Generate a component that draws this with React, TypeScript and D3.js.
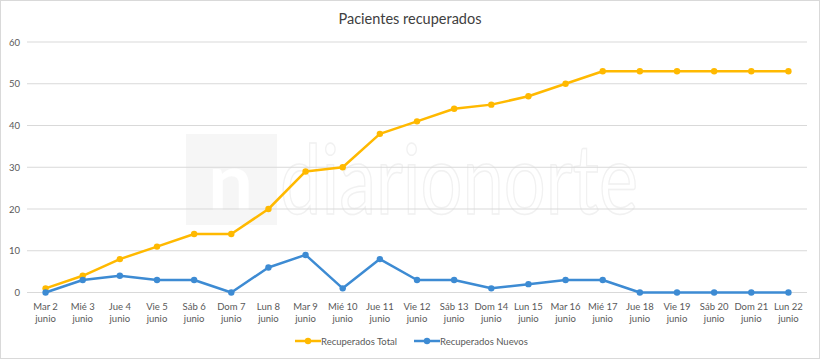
import React, { useEffect, useRef } from 'react';
import * as d3 from 'd3';

const dias = ['Mar 2', 'Mié 3', 'Jue 4', 'Vie 5', 'Sáb 6', 'Dom 7', 'Lun 8', 'Mar 9', 'Mié 10', 'Jue 11', 'Vie 12',
  'Sáb 13', 'Dom 14', 'Lun 15', 'Mar 16', 'Mié 17', 'Jue 18', 'Vie 19', 'Sáb 20', 'Dom 21', 'Lun 22'];
const recuperadosTotal = [1, 4, 8, 11, 14, 14, 20, 29, 30, 38, 41, 44, 45, 47, 50, 53, 53, 53, 53, 53, 53];
const recuperadosNuevos = [0, 3, 4, 3, 3, 0, 6, 9, 1, 8, 3, 3, 1, 2, 3, 3, 0, 0, 0, 0, 0];
const yTicks = [0, 10, 20, 30, 40, 50, 60];

const series = [
  { name: 'Recuperados Total', values: recuperadosTotal, color: '#FFB900' },
  { name: 'Recuperados Nuevos', values: recuperadosNuevos, color: '#3D8BD3' },
];

const W = 820;
const H = 359;
const FONT = 'Lato, "Open Sans", sans-serif';

const App = () => {
  const ref = useRef(null);

  useEffect(() => {
    const svg = d3.select(ref.current);
    svg.selectAll('*').remove();

    const x = d3.scaleBand().domain(dias).range([27, 807]);
    const y = d3.scaleLinear().domain([0, 60]).range([292.5, 42]);

    svg.append('rect')
      .attr('x', 0.5).attr('y', 0.5).attr('width', W - 1).attr('height', H - 1)
      .attr('fill', '#fff').attr('stroke', '#d9d9d9');

    // watermark
    const wm = svg.append('g').attr('opacity', 0.55);
    wm.append('rect').attr('x', 186).attr('y', 134).attr('width', 91).attr('height', 91).attr('fill', '#efefef');
    wm.append('text')
      .attr('x', 208).attr('y', 210)
      .attr('font-family', FONT).attr('font-weight', 'bold').attr('font-size', 80)
      .attr('fill', '#fff').text('n');
    wm.append('text')
      .attr('x', 280).attr('y', 214)
      .attr('font-family', FONT).attr('font-size', 96)
      .attr('textLength', 358).attr('lengthAdjust', 'spacingAndGlyphs')
      .attr('fill', 'none').attr('stroke', '#e6e6e6').attr('stroke-width', 1.5)
      .text('diarionorte');

    // title
    svg.append('text')
      .attr('x', 410).attr('y', 24).attr('text-anchor', 'middle')
      .attr('font-family', FONT).attr('font-size', 14.5).attr('fill', '#404040')
      .text('Pacientes recuperados');

    // grid and y labels
    const grid = svg.append('g');
    yTicks.forEach((t) => {
      grid.append('line')
        .attr('x1', 27).attr('x2', 807)
        .attr('y1', y(t)).attr('y2', y(t))
        .attr('stroke', '#d9d9d9').attr('stroke-width', 1);
      grid.append('text')
        .attr('x', 20).attr('y', y(t) + 3.5).attr('text-anchor', 'end')
        .attr('font-family', FONT).attr('font-size', 9.5).attr('fill', '#595959')
        .text(t);
    });

    // x labels
    const xl = svg.append('g');
    dias.forEach((d) => {
      const cx = x(d) + x.bandwidth() / 2;
      const t = xl.append('text')
        .attr('text-anchor', 'middle')
        .attr('font-family', FONT).attr('font-size', 9.5).attr('fill', '#595959');
      t.append('tspan').attr('x', cx).attr('y', 310).text(d);
      t.append('tspan').attr('x', cx).attr('y', 322).text('junio');
    });

    const line = d3.line<number>()
      .x((_, i) => x(dias[i]) + x.bandwidth() / 2)
      .y((v) => y(v));

    series.forEach((s) => {
      svg.append('path')
        .attr('d', line(s.values))
        .attr('fill', 'none').attr('stroke', s.color)
        .attr('stroke-width', 2.5).attr('stroke-linejoin', 'round');
      svg.append('g').selectAll('circle')
        .data(s.values)
        .enter()
        .append('circle')
        .attr('cx', (_, i) => x(dias[i]) + x.bandwidth() / 2)
        .attr('cy', (v) => y(v))
        .attr('r', 3.2)
        .attr('fill', s.color);
    });

    // legend
    const legendX = [295, 414];
    series.forEach((s, i) => {
      const g = svg.append('g').attr('transform', `translate(${legendX[i]},341)`);
      g.append('line').attr('x1', 0).attr('x2', 26).attr('y1', 0).attr('y2', 0)
        .attr('stroke', s.color).attr('stroke-width', 2.5);
      g.append('circle').attr('cx', 13).attr('cy', 0).attr('r', 3.2).attr('fill', s.color);
      g.append('text').attr('x', 26).attr('y', 3.5)
        .attr('font-family', FONT).attr('font-size', 9.5).attr('fill', '#595959')
        .text(s.name);
    });
  }, []);

  return (
    <svg
      ref={ref}
      width={W}
      height={H}
      style={{ position: 'absolute', left: 0, top: 0, display: 'block' }}
    />
  );
};

export default App;
